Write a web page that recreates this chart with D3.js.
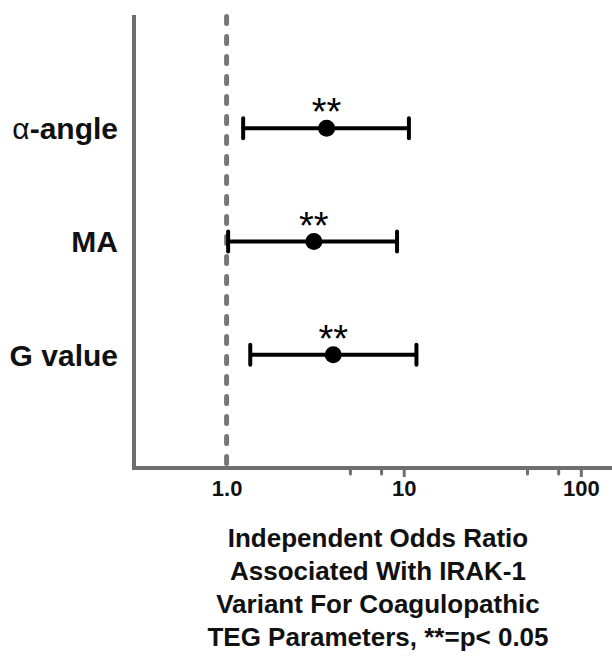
<!DOCTYPE html>
<html>
<head>
<meta charset="utf-8">
<script src="https://cdn.jsdelivr.net/npm/d3@7"></script>
<style>
  html, body { margin: 0; padding: 0; background: #fff; }
  svg { display: block; }
  text { font-family: "Liberation Sans", Arial, Helvetica, sans-serif; }
</style>
</head>
<body>
<svg id="chart" width="612" height="661"></svg>
<script>
// TEG parameters, top to bottom
const parameters = ["α-angle", "MA", "G value"];
// Odds ratio point estimates and 95% confidence limits
const oddsRatio = [3.67, 3.11, 4.0];
const ciLower = [1.24, 1.02, 1.36];
const ciUpper = [10.7, 9.17, 11.8];
const significance = ["**", "**", "**"];

// Axis ticks
const majorTicks = [1, 10, 100];
const majorTickLabels = ["1.0", "10", "100"];
const minorTicks = [5, 7.5, 50, 75];
const referenceValue = 1;

const titleLines = [
  "Independent Odds Ratio",
  "Associated With IRAK-1",
  "Variant For Coagulopathic",
  "TEG Parameters, **=p< 0.05"
];

const svg = d3.select("#chart");
const plotLeft = 134, plotRight = 612, plotTop = 15, plotBottom = 468;

const x = d3.scaleLog().domain([0.3, 150]).range([plotLeft, plotRight]);
const y = d3.scalePoint().domain(parameters).range([plotTop, plotBottom]).padding(1);

const axisColor = "#6f6f6f";

// Vertical reference line at OR = 1
svg.append("line")
  .attr("x1", x(referenceValue)).attr("x2", x(referenceValue))
  .attr("y1", plotTop + 1.5).attr("y2", plotBottom)
  .attr("stroke", "#777").attr("stroke-width", 5)
  .attr("stroke-linecap", "round")
  .attr("stroke-dasharray", "7 13");

// Left axis line
svg.append("line")
  .attr("x1", plotLeft).attr("x2", plotLeft)
  .attr("y1", plotTop).attr("y2", plotBottom + 2)
  .attr("stroke", axisColor).attr("stroke-width", 4);

// Bottom log axis
const xAxis = d3.axisBottom(x)
  .tickValues(majorTicks)
  .tickFormat((d, i) => majorTickLabels[i])
  .tickSize(9)
  .tickSizeOuter(0)
  .tickPadding(3);

const gx = svg.append("g")
  .attr("transform", `translate(0,${plotBottom})`)
  .call(xAxis);
gx.select(".domain").remove();
gx.selectAll(".tick line")
  .attr("stroke", axisColor).attr("stroke-width", 3)
  .filter(d => d === referenceValue).remove();
gx.selectAll(".tick text")
  .attr("fill", "#111")
  .attr("font-size", 22)
  .attr("font-weight", "bold")
  .attr("font-family", "'Liberation Sans', Arial, sans-serif");

gx.selectAll(".minor")
  .data(minorTicks)
  .join("line")
  .attr("class", "minor")
  .attr("x1", d => x(d)).attr("x2", d => x(d))
  .attr("y1", 0).attr("y2", 6)
  .attr("stroke", axisColor).attr("stroke-width", 3)
  .attr("stroke-linecap", "round");

svg.append("line")
  .attr("x1", plotLeft - 2).attr("x2", plotRight)
  .attr("y1", plotBottom).attr("y2", plotBottom)
  .attr("stroke", axisColor).attr("stroke-width", 4);

// Row labels
const labels = svg.append("g").selectAll("text")
  .data(parameters)
  .join("text")
  .attr("x", 118)
  .attr("y", d => y(d))
  .attr("dy", "0.36em")
  .attr("text-anchor", "end")
  .attr("font-size", 30)
  .attr("font-weight", "bold")
  .attr("fill", "#111");
labels.each(function(d) {
  const t = d3.select(this);
  if (d.startsWith("α")) {
    t.append("tspan").attr("font-weight", "normal").text("α");
    t.append("tspan").text(d.slice(1));
  } else {
    t.text(d);
  }
});

// Confidence intervals
const rows = parameters.map((p, i) => ({
  p, or: oddsRatio[i], lo: ciLower[i], hi: ciUpper[i], sig: significance[i]
}));

const g = svg.append("g");
g.selectAll(".ci")
  .data(rows)
  .join("line")
  .attr("x1", d => x(d.lo)).attr("x2", d => x(d.hi))
  .attr("y1", d => y(d.p)).attr("y2", d => y(d.p))
  .attr("stroke", "#000").attr("stroke-width", 4);

const capHalf = 10;
g.selectAll(".capL")
  .data(rows)
  .join("line")
  .attr("x1", d => x(d.lo)).attr("x2", d => x(d.lo))
  .attr("y1", d => y(d.p) - capHalf).attr("y2", d => y(d.p) + capHalf)
  .attr("stroke", "#000").attr("stroke-width", 4).attr("stroke-linecap", "round");
g.selectAll(".capR")
  .data(rows)
  .join("line")
  .attr("x1", d => x(d.hi)).attr("x2", d => x(d.hi))
  .attr("y1", d => y(d.p) - capHalf).attr("y2", d => y(d.p) + capHalf)
  .attr("stroke", "#000").attr("stroke-width", 4).attr("stroke-linecap", "round");

g.selectAll(".dot")
  .data(rows)
  .join("circle")
  .attr("cx", d => x(d.or))
  .attr("cy", d => y(d.p))
  .attr("r", 8.5)
  .attr("fill", "#000");

g.selectAll(".sig")
  .data(rows)
  .join("text")
  .attr("x", d => x(d.or))
  .attr("y", d => y(d.p) - 3)
  .attr("text-anchor", "middle")
  .attr("font-size", 38)
  .attr("fill", "#000")
  .text(d => d.sig);

// Axis title
svg.append("g").selectAll("text")
  .data(titleLines)
  .join("text")
  .attr("x", 378)
  .attr("y", (d, i) => 547 + i * 33)
  .attr("text-anchor", "middle")
  .attr("font-size", 26)
  .attr("font-weight", "bold")
  .attr("fill", "#111")
  .text(d => d);
</script>
</body>
</html>
